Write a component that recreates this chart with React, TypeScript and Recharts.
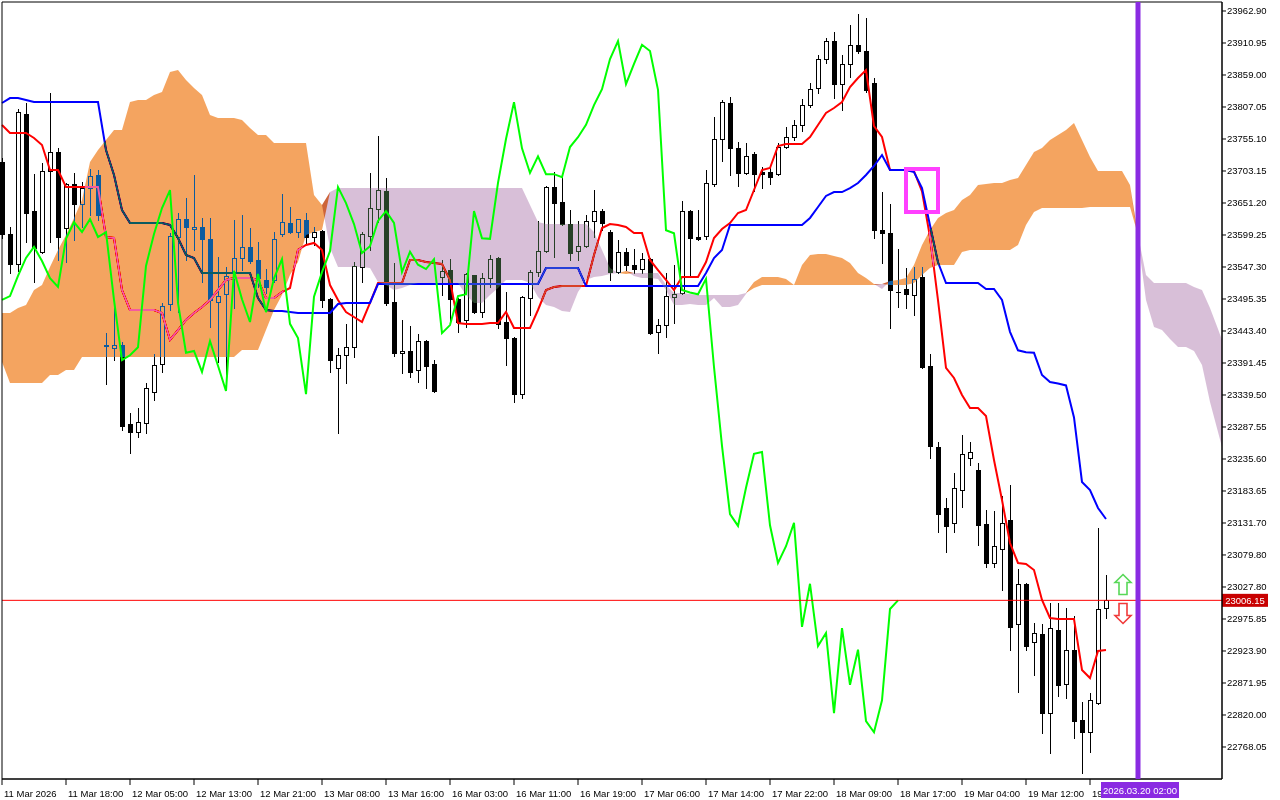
import React from 'react';
import {
  ComposedChart, Bar, Line, Area, XAxis, YAxis, ReferenceLine, ReferenceArea, Scatter,
} from 'recharts';

const FONT = "'Liberation Sans', Arial, sans-serif";

// ---- axis labels ----
const xLabels = [
  '11 Mar 2026', '11 Mar 18:00', '12 Mar 05:00', '12 Mar 13:00', '12 Mar 21:00', '13 Mar 08:00',
  '13 Mar 16:00', '16 Mar 03:00', '16 Mar 11:00', '16 Mar 19:00', '17 Mar 06:00', '17 Mar 14:00',
  '17 Mar 22:00', '18 Mar 09:00', '18 Mar 17:00', '19 Mar 04:00', '19 Mar 12:00', '19 Mar 20:00',
];
const xLabelStep = 8;
const yTicks = [
  23962.9, 23910.95, 23859.0, 23807.05, 23755.1, 23703.15, 23651.2, 23599.25, 23547.3, 23495.35,
  23443.4, 23391.45, 23339.5, 23287.55, 23235.6, 23183.65, 23131.7, 23079.8, 23027.8, 22975.85,
  22923.9, 22871.95, 22820.0, 22768.05,
];
const yDomain = [22716.1, 23977.5];
const xDomain = [0, 152.5];

// ---- candles (H1) ----
const opens = [
  23718, 23601, 23552, 23796, 23638, 23572, 23703, 23734, 23611, 23682,
  23650, 23676, 23697, 23420, 23416, 23421, 23292, 23279, 23294, 23344,
  23390, 23487, 23596, 23625, 23609, 23612, 23593, 23490, 23503, 23539,
  23562, 23580, 23559, 23526, 23526, 23601, 23619, 23604, 23624, 23596,
  23606, 23495, 23383, 23404, 23417, 23547, 23598, 23641, 23671, 23490,
  23408, 23411, 23380, 23427, 23390, 23531, 23542, 23495, 23461, 23534,
  23474, 23529, 23562, 23458, 23432, 23341, 23497, 23539, 23573, 23677,
  23653, 23617, 23573, 23581, 23622, 23638, 23604, 23539, 23572, 23551,
  23544, 23560, 23442, 23453, 23499, 23505, 23638, 23596, 23598, 23682,
  23755, 23813, 23740, 23700, 23731, 23701, 23701, 23698, 23742, 23758,
  23778, 23810, 23838, 23885, 23914, 23844, 23877, 23908, 23898, 23846,
  23607, 23602, 23507, 23512, 23502, 23531, 23387, 23255, 23156, 23132,
  23185, 23237, 23218, 23130, 23067, 23090, 23137, 22968, 23033, 22939,
  22951, 22823, 22958, 22870, 22926, 22812, 22792, 22840, 22994,
];
const highs = [
  23724, 23612, 23804, 23814, 23698, 23716, 23830, 23740, 23684, 23700,
  23685, 23706, 23705, 23440, 23482, 23426, 23310, 23318, 23359, 23406,
  23489, 23602, 23635, 23659, 23697, 23627, 23627, 23564, 23547, 23624,
  23632, 23611, 23588, 23544, 23604, 23666, 23645, 23625, 23635, 23612,
  23607, 23497, 23416, 23455, 23555, 23604, 23700, 23760, 23692, 23554,
  23461, 23452, 23439, 23429, 23396, 23559, 23560, 23497, 23537, 23535,
  23538, 23567, 23564, 23507, 23434, 23500, 23542, 23622, 23679, 23702,
  23693, 23640, 23622, 23632, 23672, 23641, 23607, 23591, 23578, 23577,
  23570, 23562, 23463, 23538, 23551, 23654, 23640, 23640, 23705, 23791,
  23818, 23823, 23750, 23749, 23734, 23710, 23708, 23749, 23775, 23786,
  23820, 23846, 23891, 23919, 23929, 23891, 23940, 23958, 23952, 23854,
  23669, 23650, 23577, 23546, 23547, 23547, 23406, 23263, 23172, 23213,
  23275, 23263, 23229, 23153, 23151, 23176, 23193, 23057, 23034, 22969,
  22968, 23002, 23002, 22994, 22981, 22841, 22856, 23124, 23047,
];
const lows = [
  23594, 23538, 23541, 23588, 23523, 23570, 23588, 23559, 23555, 23591,
  23612, 23632, 23624, 23357, 23396, 23283, 23245, 23271, 23278, 23331,
  23377, 23477, 23474, 23559, 23575, 23523, 23450, 23393, 23372, 23481,
  23542, 23554, 23515, 23505, 23523, 23598, 23602, 23596, 23586, 23583,
  23482, 23377, 23278, 23359, 23401, 23523, 23575, 23620, 23486, 23403,
  23375, 23369, 23361, 23351, 23344, 23502, 23456, 23442, 23450, 23473,
  23466, 23515, 23448, 23388, 23328, 23335, 23469, 23533, 23572, 23564,
  23615, 23559, 23559, 23580, 23596, 23607, 23526, 23537, 23542, 23538,
  23538, 23439, 23408, 23434, 23456, 23503, 23531, 23591, 23593, 23679,
  23719, 23697, 23679, 23698, 23671, 23676, 23682, 23697, 23740, 23753,
  23768, 23807, 23830, 23878, 23822, 23802, 23856, 23895, 23831, 23594,
  23554, 23448, 23482, 23481, 23469, 23383, 23237, 23117, 23085, 23117,
  23158, 23226, 23096, 23060, 23060, 23023, 22926, 22857, 22926, 22885,
  22791, 22758, 22851, 22848, 22783, 22726, 22760, 22838, 22977,
];
const closes = [
  23601, 23552, 23799, 23635, 23578, 23703, 23734, 23596, 23682, 23650,
  23676, 23695, 23632, 23419, 23421, 23289, 23279, 23296, 23351, 23388,
  23484, 23598, 23625, 23612, 23612, 23593, 23494, 23500, 23533, 23562,
  23580, 23557, 23529, 23515, 23593, 23620, 23604, 23625, 23596, 23604,
  23494, 23396, 23404, 23417, 23549, 23601, 23643, 23672, 23489, 23408,
  23411, 23377, 23427, 23387, 23346, 23541, 23495, 23458, 23536, 23474,
  23529, 23560, 23455, 23432, 23341, 23499, 23539, 23573, 23677, 23651,
  23617, 23570, 23581, 23622, 23638, 23619, 23539, 23572, 23551, 23544,
  23560, 23440, 23453, 23500, 23503, 23638, 23594, 23593, 23684, 23755,
  23815, 23740, 23700, 23727, 23698, 23698, 23693, 23742, 23758, 23778,
  23810, 23836, 23885, 23914, 23844, 23877, 23908, 23898, 23835, 23607,
  23602, 23510, 23506, 23503, 23528, 23385, 23257, 23146, 23127, 23189,
  23244, 23247, 23128, 23067, 23094, 23132, 22963, 23033, 22932, 22953,
  22823, 22961, 22869, 22926, 22810, 22792, 22844, 22992, 23006.15,
];

// ---- Ichimoku lines ----
const tenkan = [
  23777.8, 23764.8, 23764.8, 23764.8, 23756.7, 23745.4, 23704.8, 23704.8, 23677.2, 23677.2,
  23677.2, 23677.2, 23677.2, 23596.0, 23594.4, 23509.9, 23477.5, 23477.5, 23477.5, 23477.5,
  23472.6, 23428.8, 23445.0, 23461.3, 23472.6, 23482.4, 23493.7, 23509.9, 23526.2, 23529.4,
  23529.4, 23529.4, 23526.2, 23496.9, 23496.9, 23506.7, 23513.2, 23574.9, 23583.0, 23586.3,
  23574.9, 23518.0, 23493.7, 23474.2, 23466.1, 23458.0, 23488.9, 23521.3, 23521.3, 23521.3,
  23521.3, 23558.7, 23558.7, 23555.4, 23553.8, 23552.2, 23526.2, 23456.4, 23454.8, 23454.8,
  23454.8, 23456.4, 23456.4, 23474.2, 23448.3, 23448.3, 23448.3, 23477.5, 23509.9, 23514.8,
  23516.4, 23516.4, 23516.4, 23516.4, 23566.8, 23610.6, 23617.1, 23615.5, 23612.2, 23602.5,
  23602.5, 23558.7, 23542.4, 23526.2, 23509.9, 23531.0, 23531.0, 23531.0, 23555.4, 23594.4,
  23609.0, 23618.7, 23635.0, 23639.8, 23672.3, 23704.8, 23708.0, 23743.7, 23747.0, 23747.0,
  23747.0, 23758.3, 23777.8, 23797.3, 23805.4, 23815.2, 23839.5, 23854.1, 23867.1, 23776.0,
  23758.3, 23704.8, 23704.8, 23704.8, 23703.0, 23670.0, 23596.0, 23493.7, 23383.4, 23367.1,
  23339.5, 23318.4, 23318.4, 23305.4, 23234.0, 23169.0, 23099.2, 23066.8, 23065.1, 23055.4,
  23006.7, 22977.5, 22975.8, 22975.8, 22975.8, 22893.1, 22880.1, 22923.9, 22925.5,
];
const kijun = [
  23813.5, 23821.6, 23821.6, 23818.4, 23815.2, 23815.2, 23815.2, 23815.2, 23815.2, 23815.2,
  23815.2, 23815.2, 23815.2, 23737.2, 23696.7, 23639.8, 23618.7, 23618.7, 23618.7, 23618.7,
  23618.7, 23615.5, 23594.4, 23566.8, 23561.9, 23537.6, 23537.6, 23537.6, 23537.6, 23537.6,
  23537.6, 23537.6, 23496.9, 23477.5, 23475.9, 23475.9, 23474.2, 23472.6, 23472.6, 23472.6,
  23472.6, 23472.6, 23487.2, 23488.9, 23488.9, 23488.9, 23488.9, 23519.7, 23519.7, 23519.7,
  23519.7, 23519.7, 23519.7, 23519.7, 23519.7, 23519.7, 23519.7, 23519.7, 23519.7, 23519.7,
  23519.7, 23519.7, 23519.7, 23519.7, 23519.7, 23519.7, 23519.7, 23519.7, 23545.7, 23545.7,
  23545.7, 23545.7, 23545.7, 23516.4, 23516.4, 23516.4, 23516.4, 23516.4, 23516.4, 23516.4,
  23516.4, 23516.4, 23516.4, 23516.4, 23516.4, 23516.4, 23516.4, 23516.4, 23537.6, 23561.9,
  23574.9, 23615.5, 23615.5, 23615.5, 23615.5, 23615.5, 23615.5, 23615.5, 23615.5, 23615.5,
  23615.5, 23626.9, 23644.7, 23662.6, 23669.0, 23669.0, 23675.5, 23683.7, 23696.7, 23711.3,
  23729.1, 23704.8, 23704.8, 23704.8, 23701.5, 23675.5, 23615.0, 23555.0, 23521.3, 23521.3,
  23521.3, 23521.3, 23521.3, 23511.6, 23511.6, 23493.7, 23442.0, 23412.0, 23409.0, 23408.0,
  23372.0, 23360.6, 23358.0, 23355.0, 23303.0, 23198.3, 23185.3, 23156.0, 23138.2,
];
const chikouShift = 26;

// ---- Kumo (cloud), extends 26 bars beyond the last candle ----
const cloudX = [...Array.from({ length: 153 }, (_, k) => k), 152.5];
const spanA = [
  23472.6, 23472.6, 23480.7, 23485.6, 23509.9, 23518.0, 23547.3, 23574.9, 23599.2, 23626.9,
  23656.1, 23717.8, 23737.2, 23753.5, 23769.7, 23769.7, 23815.2, 23818.4, 23818.4, 23826.5,
  23831.4, 23863.9, 23867.1, 23850.9, 23837.9, 23826.5, 23794.0, 23789.2, 23789.2, 23789.2,
  23785.9, 23772.9, 23761.6, 23761.6, 23748.6, 23748.6, 23748.6, 23748.6, 23748.6, 23664.2,
  23648.0, 23578.1, 23547.3, 23547.3, 23547.3, 23547.3, 23545.7, 23522.9, 23518.0, 23509.9,
  23513.2, 23518.0, 23521.3, 23521.3, 23521.3, 23521.3, 23521.3, 23521.3, 23501.8, 23488.9,
  23488.9, 23501.8, 23513.2, 23526.2, 23526.2, 23526.2, 23521.3, 23498.6, 23485.6, 23482.4,
  23475.9, 23474.2, 23506.7, 23526.2, 23531.0, 23532.7, 23535.9, 23537.6, 23540.8, 23532.7,
  23529.4, 23529.4, 23527.8, 23509.9, 23485.6, 23485.6, 23487.2, 23485.6, 23485.6, 23496.9,
  23482.4, 23482.4, 23485.6, 23503.4, 23522.9, 23531.0, 23531.0, 23531.0, 23527.8, 23518.0,
  23550.5, 23566.8, 23568.4, 23568.4, 23565.2, 23561.9, 23553.8, 23537.6, 23529.4, 23519.7,
  23511.6, 23524.6, 23526.2, 23529.4, 23550.5, 23583.0, 23607.4, 23626.9, 23635.0, 23639.8,
  23656.1, 23664.2, 23680.4, 23682.0, 23683.7, 23683.7, 23688.5, 23691.8, 23712.9, 23734.0,
  23740.5, 23753.5, 23761.6, 23769.7, 23781.1, 23753.5, 23725.9, 23703.1, 23703.1, 23703.1,
  23703.1, 23680.4, 23591.1, 23493.7, 23449.9, 23445.0, 23430.4, 23417.4, 23417.4, 23410.9,
  23388.2, 23328.1, 23279.4, 23255.1,
];
const spanB = [
  23393.1, 23359.0, 23359.0, 23359.0, 23359.0, 23359.0, 23372.0, 23372.0, 23380.1, 23380.1,
  23401.2, 23401.2, 23401.2, 23401.2, 23401.2, 23401.2, 23401.2, 23401.2, 23401.2, 23401.2,
  23401.2, 23401.2, 23401.2, 23401.2, 23401.2, 23401.2, 23401.2, 23401.2, 23401.2, 23401.2,
  23412.5, 23412.5, 23412.5, 23445.0, 23477.5, 23501.8, 23534.3, 23555.4, 23599.2, 23604.1,
  23607.4, 23669.0, 23675.5, 23675.5, 23675.5, 23675.5, 23675.5, 23675.5, 23675.5, 23675.5,
  23675.5, 23675.5, 23675.5, 23675.5, 23675.5, 23675.5, 23675.5, 23675.5, 23675.5, 23675.5,
  23675.5, 23675.5, 23675.5, 23675.5, 23675.5, 23675.5, 23648.0, 23620.4, 23617.1, 23617.1,
  23617.1, 23617.1, 23617.1, 23617.1, 23604.1, 23574.9, 23545.7, 23537.6, 23535.9, 23537.6,
  23537.6, 23537.6, 23537.6, 23518.0, 23505.1, 23505.1, 23503.4, 23501.8, 23501.8, 23501.8,
  23501.8, 23501.8, 23501.8, 23505.1, 23513.2, 23518.0, 23518.0, 23518.0, 23518.0, 23518.0,
  23518.0, 23518.0, 23518.0, 23518.0, 23518.0, 23518.0, 23518.0, 23518.0, 23518.0, 23518.0,
  23519.7, 23518.0, 23518.0, 23518.0, 23521.3, 23534.3, 23545.7, 23550.5, 23550.5, 23550.5,
  23571.6, 23574.9, 23574.9, 23574.9, 23574.9, 23574.9, 23574.9, 23583.0, 23615.5, 23636.6,
  23643.1, 23643.1, 23643.1, 23643.1, 23643.1, 23643.1, 23644.7, 23644.7, 23644.7, 23644.7,
  23644.7, 23644.7, 23599.2, 23534.3, 23521.3, 23521.3, 23521.3, 23521.3, 23521.3, 23514.8,
  23509.9, 23480.7, 23446.6, 23428.8,
];

// ---- annotations ----
const lastPrice = 23006.15;
const futureLineIdx = 142;
const futureLineLabel = '2026.03.20 02:00';
const signalBox = { x1: 113, x2: 117, y1: 23636.6, y2: 23706.4 };
const arrows = [
  { i: 140, v: 23031.8, dir: 'up' },
  { i: 140, v: 22984.8, dir: 'down' },
];

// ---- tables for the library ----
const rows = opens.map((o, i) => ({
  i,
  o,
  h: highs[i],
  l: lows[i],
  c: closes[i],
  range: [lows[i], highs[i]],
  tenkan: tenkan[i],
  kijun: kijun[i],
  chikou: i + chikouShift < closes.length ? closes[i + chikouShift] : null,
}));
const cloudRows = cloudX.map((x, k) => {
  const a = spanA[k];
  const b = spanB[k];
  const top = Math.max(a, b);
  return { i: x, up: [b, top], down: [a, top] };
});
const xTicks = xLabels.map((_, k) => k * xLabelStep);

function Candle(props: any) {
  const { x, y, width, height, payload } = props;
  if (!payload || payload.o == null || !isFinite(y) || !isFinite(height)) return null;
  const { o, h, l, c } = payload;
  const cx = Math.round(x + width / 2 + 0.01);
  const span = h - l;
  const py = (v: number) => (span > 0 ? y + ((h - v) / span) * height : y);
  const top = Math.round(y);
  const bot = Math.round(y + height);
  const bt = Math.round(py(Math.max(o, c)));
  const bb = Math.round(py(Math.min(o, c)));
  const bull = c > o;
  return (
    <g>
      <line x1={cx + 0.5} x2={cx + 0.5} y1={top} y2={bot + 1} stroke="#000" strokeWidth={1} />
      {bull ? (
        <rect x={cx - 1.5} y={bt + 0.5} width={4} height={Math.max(bb - bt, 1)} fill="#fff" stroke="#000" strokeWidth={1} />
      ) : (
        <rect x={cx - 2} y={bt} width={5} height={Math.max(bb - bt + 1, 1)} fill="#000" />
      )}
    </g>
  );
}

function XTick(props: any) {
  const { x, y, payload } = props;
  const label = xLabels[Math.round(payload.value / xLabelStep)];
  return (
    <text x={x + 2} y={y + 9.5} fontSize={9.5} fontFamily={FONT} fill="#000" textAnchor="start">
      {label}
    </text>
  );
}

function PriceTag(props: any) {
  const vb = props.viewBox || {};
  const x = (vb.x || 0) + (vb.width || 0);
  const y = vb.y || 0;
  return (
    <g>
      <rect x={x} y={y - 6.5} width={46} height={13} fill="#C80000" />
      <text x={x + 23} y={y + 3.5} textAnchor="middle" fontSize={9.5} fontFamily={FONT} fill="#fff">
        {lastPrice.toFixed(2)}
      </text>
    </g>
  );
}

function TimeTag(props: any) {
  const vb = props.viewBox || {};
  const x = vb.x || 0;
  const bottom = (vb.y || 0) + (vb.height || 0);
  return (
    <g>
      <rect x={x - 37} y={bottom + 3} width={78} height={16} fill="#8A2BE2" />
      <text x={x + 2} y={bottom + 15} textAnchor="middle" fontSize={9.5} fontFamily={FONT} fill="#fff">
        {futureLineLabel}
      </text>
    </g>
  );
}

function ArrowShape(props: any) {
  const { cx, cy, payload } = props;
  if (cx == null || cy == null) return null;
  const up = payload && payload.dir === 'up';
  const s = up ? 1 : -1;
  const pts = [[0, -10], [8, -2], [4, -2], [4, 10], [-4, 10], [-4, -2], [-8, -2]]
    .map(([dx, dy]) => `${cx + 1 + dx},${cy + s * dy}`)
    .join(' ');
  return (
    <polygon points={pts} fill="#fff" stroke={up ? '#58D858' : '#F03A3A'} strokeWidth={1.6} strokeLinejoin="miter" />
  );
}

export default function App() {
  return (
    <div style={{ position: 'absolute', left: 0, top: 0, width: 1280, height: 800, background: '#fff' }}>
      <style>{`
        .recharts-area, .recharts-area-area { mix-blend-mode: difference; }
        svg.recharts-surface { background: #fff; }
      `}</style>
      <ComposedChart
        width={1280}
        height={800}
        data={rows}
        margin={{ top: 2, right: 0, bottom: 0, left: 2 }}
        style={{ background: '#fff' }}
      >
        <ReferenceArea
          x1={xDomain[0]} x2={xDomain[1]} y1={yDomain[0]} y2={yDomain[1]}
          fill="#fff" fillOpacity={1} stroke="none" zIndex={-1000}
        />
        <XAxis
          dataKey="i" type="number" domain={xDomain} ticks={xTicks} interval={0}
          height={21} tickSize={6} tickMargin={2} tick={<XTick />}
          axisLine={{ stroke: '#000' }} tickLine={{ stroke: '#000' }}
        />
        <YAxis
          orientation="right" type="number" domain={yDomain} ticks={yTicks} interval={0}
          width={58} tickSize={4} tickMargin={1}
          tickFormatter={(v: number) => v.toFixed(2)}
          tick={{ fontSize: 9.5, fill: '#000', fontFamily: FONT }}
          axisLine={{ stroke: '#000' }} tickLine={{ stroke: '#000' }}
        />
        <Bar dataKey="range" barSize={5} isAnimationActive={false} zIndex={300}
          shape={(p: any) => <Candle {...p} />} />
        <Line dataKey="tenkan" type="linear" stroke="#FF0000" strokeWidth={2} dot={false} activeDot={false}
          isAnimationActive={false} zIndex={400} />
        <Line dataKey="kijun" type="linear" stroke="#0000FF" strokeWidth={2} dot={false} activeDot={false}
          isAnimationActive={false} zIndex={401} />
        <Area data={cloudRows} dataKey="up" type="linear" stroke="none" fill="#0B5B9F" fillOpacity={1}
          isAnimationActive={false} zIndex={450} activeDot={false} />
        <Area data={cloudRows} dataKey="down" type="linear" stroke="none" fill="#274027" fillOpacity={1}
          isAnimationActive={false} zIndex={451} activeDot={false} />
        <Line dataKey="chikou" type="linear" stroke="#00FF00" strokeWidth={2} dot={false} activeDot={false}
          isAnimationActive={false} zIndex={460} />
        <ReferenceLine y={lastPrice} stroke="#FF0000" strokeWidth={1} zIndex={470} label={(p: any) => <PriceTag {...p} />} />
        <ReferenceArea
          x1={signalBox.x1} x2={signalBox.x2} y1={signalBox.y1} y2={signalBox.y2}
          fill="none" fillOpacity={0} stroke="#FF40FF" strokeWidth={4} zIndex={480}
        />
        <ReferenceArea
          x1={xDomain[0]} x2={xDomain[1]} y1={yDomain[0]} y2={yDomain[1]}
          fill="none" fillOpacity={0} stroke="#000" strokeWidth={1} zIndex={495}
        />
        <Scatter data={arrows} dataKey="v" isAnimationActive={false} zIndex={600}
          shape={(p: any) => <ArrowShape {...p} />} />
        <ReferenceLine x={futureLineIdx} stroke="#8A2BE2" strokeWidth={5} zIndex={2500}
          label={(p: any) => <TimeTag {...p} />} />
      </ComposedChart>
    </div>
  );
}
